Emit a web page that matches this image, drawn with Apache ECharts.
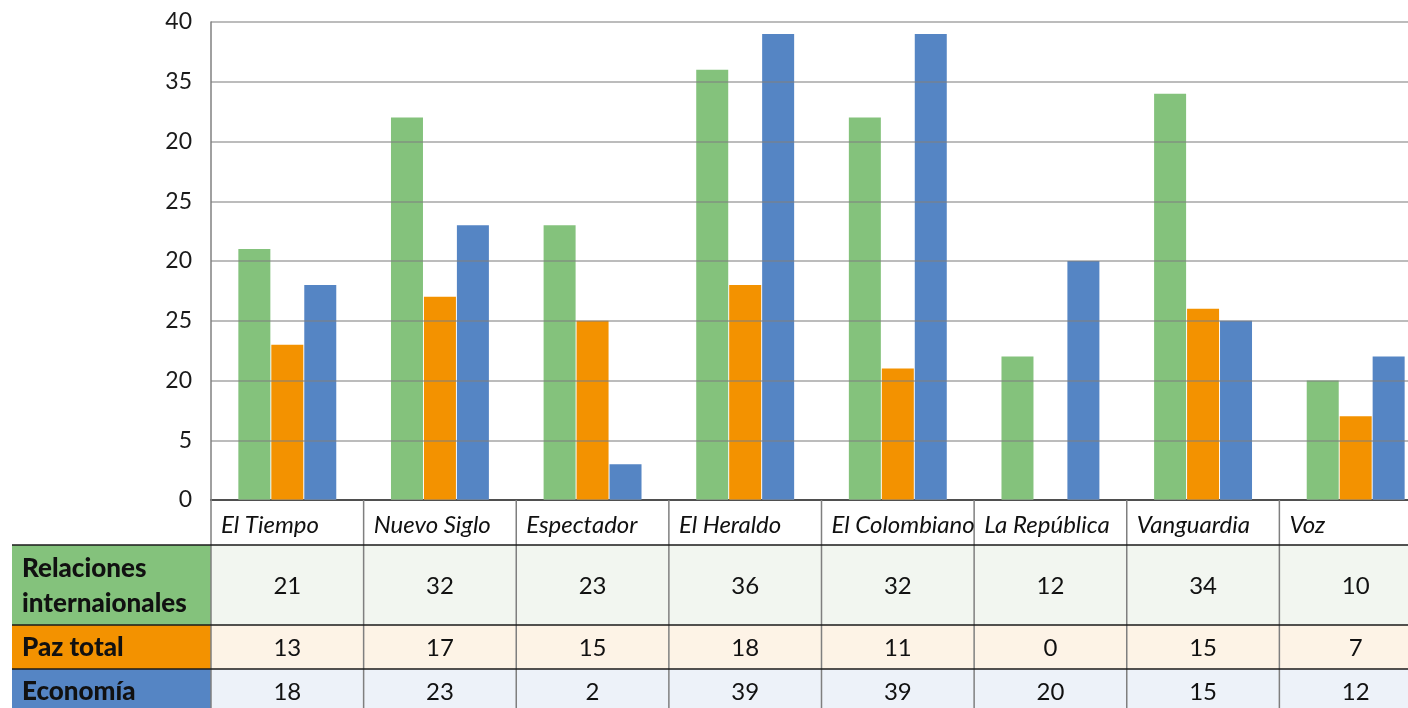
<!DOCTYPE html>
<html>
<head>
<meta charset="utf-8">
<script src="https://cdn.jsdelivr.net/npm/echarts@6/dist/echarts.min.js"></script>
<style>
  html, body { margin: 0; padding: 0; background: #fff; }
  #chart { width: 1408px; height: 708px; }
</style>
</head>
<body>
<div id="chart"></div>
<script>
// periodicos
var categories = ['El Tiempo', 'Nuevo Siglo', 'Espectador', 'El Heraldo', 'El Colombiano', 'La República', 'Vanguardia', 'Voz'];

// bar heights as drawn in the picture
var relaciones = [21, 32, 23, 36, 32, 12, 34, 10];
var pazTotal = [13, 17, 15, 18, 11, 0, 16, 7];
var economia = [18, 23, 3, 39, 39, 20, 15, 12];

// numbers printed in the table below
var tablaRelaciones = ['21', '32', '23', '36', '32', '12', '34', '10'];
var tablaPaz = ['13', '17', '15', '18', '11', '0', '15', '7'];
var tablaEconomia = ['18', '23', '2', '39', '39', '20', '15', '12'];

// y tick labels as printed (0..40 step 5)
var yTickLabels = ['0', '5', '20', '25', '20', '25', '20', '35', '40'];

var seriesNames = ['Relaciones internaionales', 'Paz total', 'Economía'];
var colors = ['#84c27c', '#f39200', '#5585c4'];
var rowBg = ['#f2f6f0', '#fdf3e6', '#edf2f9'];

var FONT = 'Lato, "Noto Sans", sans-serif';
var gridLeft = 211, gridTop = 22, gridW = 1221, gridH = 478;

var chart = echarts.init(document.getElementById('chart'));

var option = {
    animation: false,
    backgroundColor: '#fff',
    grid: { left: gridLeft, top: gridTop, width: gridW, height: gridH, outerBoundsMode: 'none', containLabel: false },
    xAxis: {
        type: 'category',
        data: categories,
        axisLine: { lineStyle: { color: '#1a1a1a', width: 2 } },
        axisTick: { show: false },
        axisLabel: { show: false }
    },
    yAxis: {
        type: 'value',
        min: 0,
        max: 40,
        interval: 5,
        z: 5,
        axisLine: { show: true, lineStyle: { color: '#808080', width: 1.5 } },
        axisTick: { show: false },
        axisLabel: {
            margin: 19,
            fontFamily: FONT,
            fontSize: 23,
            color: '#1a1a1a',
            formatter: function (v) { return yTickLabels[Math.round(v / 5)]; }
        },
        splitLine: { lineStyle: { color: 'rgba(128,128,128,0.7)', width: 1.5 } }
    },
    series: [
        { name: seriesNames[0], type: 'bar', data: relaciones, barWidth: 32, barGap: '3%', itemStyle: { color: colors[0] } },
        { name: seriesNames[1], type: 'bar', data: pazTotal, barWidth: 32, barGap: '3%', itemStyle: { color: colors[1] } },
        { name: seriesNames[2], type: 'bar', data: economia, barWidth: 32, barGap: '3%', itemStyle: { color: colors[2] } }
    ]
};
chart.setOption(option);

// data table under the chart
var colW = gridW / categories.length;
var yBase = gridTop + gridH;
var rows = [
    { top: 545, h: 80, labels: ['Relaciones', 'internaionales'], vals: tablaRelaciones },
    { top: 625, h: 44, labels: ['Paz total'], vals: tablaPaz },
    { top: 669, h: 44, labels: ['Economía'], vals: tablaEconomia }
];
var g = [];

rows.forEach(function (r, k) {
    g.push({ type: 'rect', shape: { x: 12, y: r.top, width: gridLeft - 12, height: r.h }, style: { fill: colors[k] }, z: 1 });
    g.push({ type: 'rect', shape: { x: gridLeft, y: r.top, width: 1408 - gridLeft, height: r.h }, style: { fill: rowBg[k] }, z: 1 });
    var lh = 35;
    var ty = r.top + r.h / 2 - (r.labels.length - 1) * lh / 2 + 1;
    r.labels.forEach(function (t, j) {
        g.push({ type: 'text', x: 22, y: ty + j * lh, z: 3,
            style: { text: t, fontFamily: FONT, fontWeight: 900, fontSize: 26, fill: '#111', verticalAlign: 'middle' } });
    });
    r.vals.forEach(function (v, i) {
        var cx = chart.convertToPixel({ xAxisIndex: 0 }, i);
        g.push({ type: 'text', x: cx, y: r.top + r.h / 2 + 1, z: 3,
            style: { text: v, fontFamily: FONT, fontSize: 24, fill: '#111', align: 'center', verticalAlign: 'middle' } });
    });
});

categories.forEach(function (c, i) {
    var cx = chart.convertToPixel({ xAxisIndex: 0 }, i);
    g.push({ type: 'text', x: cx - colW / 2 + 10, y: 525, z: 3,
        style: { text: c, fontFamily: FONT, fontStyle: 'italic', fontSize: 24, fill: '#111', verticalAlign: 'middle' } });
});

for (var k = 0; k <= categories.length; k++) {
    var bx = gridLeft + k * colW;
    g.push({ type: 'line', z: 2, shape: { x1: bx, y1: yBase, x2: bx, y2: 708 }, style: { stroke: '#7f7f7f', lineWidth: 1.5 } });
}
[545, 625, 669].forEach(function (hy) {
    g.push({ type: 'line', z: 2, shape: { x1: 12, y1: hy, x2: 1408, y2: hy }, style: { stroke: '#1a1a1a', lineWidth: 1.5 } });
});

chart.setOption({ graphic: g });
</script>
</body>
</html>
